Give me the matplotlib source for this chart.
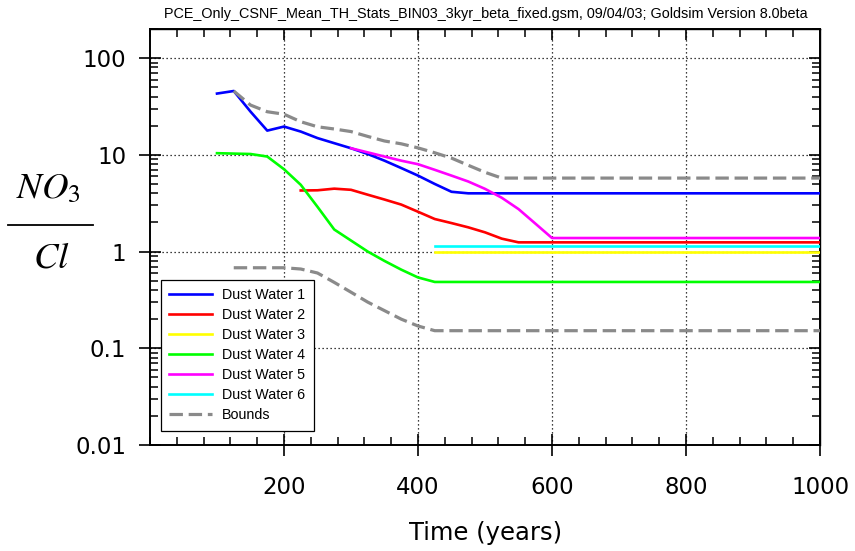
import matplotlib
matplotlib.use("Agg")
import matplotlib.pyplot as plt
from matplotlib.ticker import MultipleLocator, LogLocator, NullFormatter
from matplotlib.lines import Line2D

plt.rcParams['font.family'] = ['Liberation Sans', 'DejaVu Sans']

# ---------------- data ----------------
t_dw1 = [100, 125, 150, 175, 200, 225, 250, 275, 300, 325, 350, 375, 400, 425, 450, 475, 1000]
dw1 = [43, 45.7, 28, 17.8, 19.6, 17.4, 14.9, 13.2, 11.7, 10.2, 8.7, 7.3, 6.1, 5.0, 4.15, 4.0, 4.0]

t_dw2 = [225, 250, 275, 300, 325, 350, 375, 400, 425, 450, 475, 500, 525, 550, 1000]
dw2 = [4.28, 4.30, 4.47, 4.35, 3.87, 3.45, 3.06, 2.58, 2.17, 1.97, 1.78, 1.58, 1.36, 1.245, 1.245]

t_dw3 = [425, 1000]
dw3 = [1.0, 1.0]

t_dw4 = [100, 125, 150, 175, 200, 225, 250, 275, 300, 325, 350, 375, 400, 425, 1000]
dw4 = [10.4, 10.3, 10.2, 9.6, 7.1, 4.9, 2.9, 1.69, 1.3, 1.0, 0.8, 0.65, 0.54, 0.485, 0.485]

t_dw5 = [300, 325, 350, 375, 400, 425, 450, 475, 500, 525, 550, 575, 600, 1000]
dw5 = [11.7, 10.6, 9.6, 8.7, 8.0, 7.0, 6.1, 5.3, 4.45, 3.6, 2.75, 1.95, 1.38, 1.38]

t_dw6 = [425, 1000]
dw6 = [1.15, 1.15]

t_up = [125, 150, 175, 200, 225, 250, 275, 300, 325, 350, 375, 400, 425, 450, 475, 500, 525, 1000]
bound_up = [45.7, 32.7, 27.9, 26.3, 22, 19.5, 18.5, 17.4, 15.5, 13.9, 13.0, 11.8, 10.5, 9.25, 7.8, 6.6, 5.75, 5.75]

t_lo = [125, 150, 175, 200, 225, 250, 275, 300, 325, 350, 375, 400, 425, 1000]
bound_lo = [0.68, 0.68, 0.68, 0.68, 0.66, 0.60, 0.48, 0.38, 0.30, 0.245, 0.20, 0.17, 0.152, 0.152]

series_names = ["Dust Water 1", "Dust Water 2", "Dust Water 3",
                "Dust Water 4", "Dust Water 5", "Dust Water 6"]
series_colors = ["#0000FF", "#FF0000", "#FFFF00", "#00FF00", "#FF00FF", "#00FFFF"]

x_ticks = [200, 400, 600, 800, 1000]
x_ticklabels = ["200", "400", "600", "800", "1000"]
y_ticks = [0.01, 0.1, 1, 10, 100]
y_ticklabels = ["0.01", "0.1", "1", "10", "100"]

title = "PCE_Only_CSNF_Mean_TH_Stats_BIN03_3kyr_beta_fixed.gsm, 09/04/03; Goldsim Version 8.0beta"
xlabel = "Time (years)"

# ---------------- figure ----------------
W, H = 855, 551
fig = plt.figure(figsize=(W / 100, H / 100), dpi=100)
ax = fig.add_axes([150 / W, 1 - 445 / H, 670 / W, 416 / H])

ax.set_yscale('log')
ax.set_xlim(0, 1000)
ax.set_ylim(0.01, 200)

ax.grid(True, which='major', color='black', linestyle=(0, (1, 2.2)), linewidth=0.9)

xs = [t_dw1, t_dw2, t_dw3, t_dw4, t_dw5, t_dw6]
ys = [dw1, dw2, dw3, dw4, dw5, dw6]
for x, y, c, n in zip(xs, ys, series_colors, series_names):
    ax.plot(x, y, color=c, lw=1.9, label=n, zorder=3)

dash = (0, (4.2, 1.8))
ax.plot(t_up, bound_up, color='#8a8a8a', lw=2.3, linestyle=dash, label="Bounds", zorder=4)
ax.plot(t_lo, bound_lo, color='#8a8a8a', lw=2.3, linestyle=dash, zorder=4)

# ticks
ax.set_xticks(x_ticks)
ax.set_xticklabels(x_ticklabels, fontfamily='DejaVu Sans', fontsize=16.5)
ax.xaxis.set_minor_locator(MultipleLocator(40))
ax.set_yticks(y_ticks)
ax.set_yticklabels(y_ticklabels, fontfamily='DejaVu Sans', fontsize=16.5)
ax.yaxis.set_minor_locator(LogLocator(base=10, subs=range(2, 10), numticks=20))
ax.yaxis.set_minor_formatter(NullFormatter())
ax.tick_params(which='major', direction='inout', length=16, width=1.2, color='black')
ax.tick_params(axis='x', which='major', pad=14)
ax.tick_params(axis='y', which='major', pad=9)
ax.tick_params(which='minor', direction='in', length=6, width=1.1)

secx = ax.secondary_xaxis('top')
secx.set_xticks(x_ticks)
secx.xaxis.set_minor_locator(MultipleLocator(40))
secx.tick_params(which='major', direction='in', length=8, width=1.2, labeltop=False)
secx.tick_params(which='minor', direction='in', length=6, width=1.1)
secx.set_xticklabels([])

secy = ax.secondary_yaxis('right')
secy.set_yticks(y_ticks)
secy.yaxis.set_minor_locator(LogLocator(base=10, subs=range(2, 10), numticks=20))
secy.yaxis.set_minor_formatter(NullFormatter())
secy.tick_params(which='major', direction='in', length=8, width=1.2, labelright=False)
secy.tick_params(which='minor', direction='in', length=6, width=1.1)
secy.set_yticklabels([])

for sp in ax.spines.values():
    sp.set_linewidth(1.4)
for sp in list(secx.spines.values()) + list(secy.spines.values()):
    sp.set_linewidth(1.0)

# legend
leg = ax.legend(loc='lower left', bbox_to_anchor=(0.016, 0.034), borderaxespad=0,
                fontsize=10.3, frameon=True, fancybox=False, framealpha=1,
                edgecolor='black', handlelength=3.0, handletextpad=0.7,
                labelspacing=0.42, borderpad=0.6)
leg.get_frame().set_linewidth(0.9)

# texts
fig.text(486 / W, 1 - 18 / H, title, fontsize=10.4, ha='center', va='baseline')
fig.text(486 / W, 1 - 540 / H, xlabel, fontfamily='DejaVu Sans', fontsize=17.5,
         ha='center', va='baseline')

# y label as a fraction
fig.text(48 / W, 1 - 198 / H, r'$NO_3$', fontsize=26.5, math_fontfamily='stix',
         ha='center', va='baseline')
fig.text(51 / W, 1 - 268 / H, r'$Cl$', fontsize=26.5, math_fontfamily='stix',
         ha='center', va='baseline')
fig.add_artist(Line2D([8 / W, 93 / W], [1 - 225 / H, 1 - 225 / H],
                      transform=fig.transFigure, color='black', lw=1.3))

fig.savefig("out.png", dpi=100)
